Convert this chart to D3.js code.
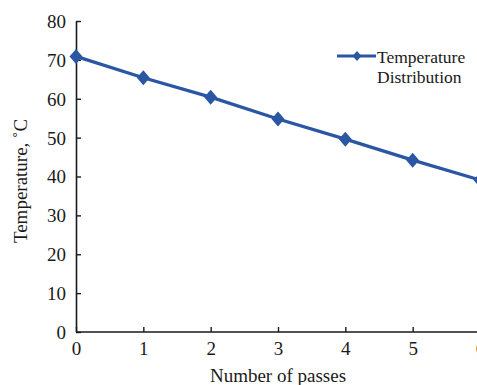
<!DOCTYPE html>
<html><head><meta charset="utf-8">
<script src="https://cdn.jsdelivr.net/npm/d3@7"></script>
<style>
html,body{margin:0;padding:0;background:#fff;overflow:hidden;}
</style></head>
<body>
<svg id="c" width="477" height="385"></svg>
<script>
const passes = [0, 1, 2, 3, 4, 5, 6];
const temperature = [70.9, 65.4, 60.4, 54.8, 49.6, 44.2, 39.1];
const yTicks = [0, 10, 20, 30, 40, 50, 60, 70, 80];
const xTicks = [0, 1, 2, 3, 4, 5, 6];
const seriesName = ["Temperature", "Distribution"];
const xTitle = "Number of passes";
const yTitle = "Temperature, \u02DAC";
const FONT = "'Liberation Serif', 'Times New Roman', Times, serif";
const INK = "#1a1a1a";

const svg = d3.select("#c");
const x = d3.scaleLinear().domain([0, 6]).range([76, 480]);
const y = d3.scaleLinear().domain([0, 80]).range([332, 21]);
const color = "#2a56a3";

const xAxis = svg.append("g").attr("transform", `translate(0,${y(0)})`)
  .call(d3.axisBottom(x).tickValues(xTicks).tickSize(-5).tickSizeOuter(0).tickPadding(10).tickFormat(d3.format("d")));
xAxis.select(".domain").attr("d", `M${x(0)},0H477`);
const yAxis = svg.append("g").attr("transform", `translate(${x(0)},0)`)
  .call(d3.axisLeft(y).tickValues(yTicks).tickSize(-5).tickSizeOuter(0).tickPadding(10));
[xAxis, yAxis].forEach(a => {
  a.attr("font-family", FONT).attr("font-size", 19);
  a.selectAll(".domain").attr("stroke", INK).attr("stroke-width", 1.6);
  a.selectAll(".tick line").attr("stroke", INK).attr("stroke-width", 1.4);
  a.selectAll("text").style("font-family", FONT).style("font-size", "19px").attr("fill", INK);
});
xAxis.selectAll(".tick line").attr("y2", -5);
yAxis.selectAll(".tick line").attr("x2", 5);
yAxis.selectAll("text").attr("dy", "0.34em");

const line = d3.line().x((d, i) => x(passes[i])).y(d => y(d));
svg.append("path").datum(temperature).attr("d", line)
  .attr("fill", "none").attr("stroke", color).attr("stroke-width", 3.3);
const diamond = "M0,-7.5L6.5,0L0,7.5L-6.5,0Z";
svg.selectAll(".pt").data(temperature).enter().append("path")
  .attr("class", "pt").attr("d", diamond)
  .attr("transform", (d, i) => `translate(${x(passes[i])},${y(d)})`)
  .attr("fill", color);

// legend
const lg = svg.append("g");
lg.append("line").attr("x1", 337).attr("x2", 376).attr("y1", 56).attr("y2", 56)
  .attr("stroke", color).attr("stroke-width", 3);
lg.append("path").attr("d", "M0,-5L4.5,0L0,5L-4.5,0Z").attr("transform", "translate(357,56)").attr("fill", color);
lg.append("text").attr("x", 377).attr("y", 63).style("font-family", FONT).style("font-size", "17.5px").attr("fill", INK).text(seriesName[0]);
lg.append("text").attr("x", 377).attr("y", 83).style("font-family", FONT).style("font-size", "17.5px").attr("fill", INK).text(seriesName[1]);

svg.append("text").attr("x", 278).attr("y", 382).attr("text-anchor", "middle")
  .style("font-family", FONT).style("font-size", "19px").attr("fill", INK).text(xTitle);
svg.append("text").attr("transform", "translate(27,181) rotate(-90)").attr("text-anchor", "middle")
  .style("font-family", FONT).style("font-size", "19px").attr("fill", INK).text(yTitle);
</script>
</body></html>
